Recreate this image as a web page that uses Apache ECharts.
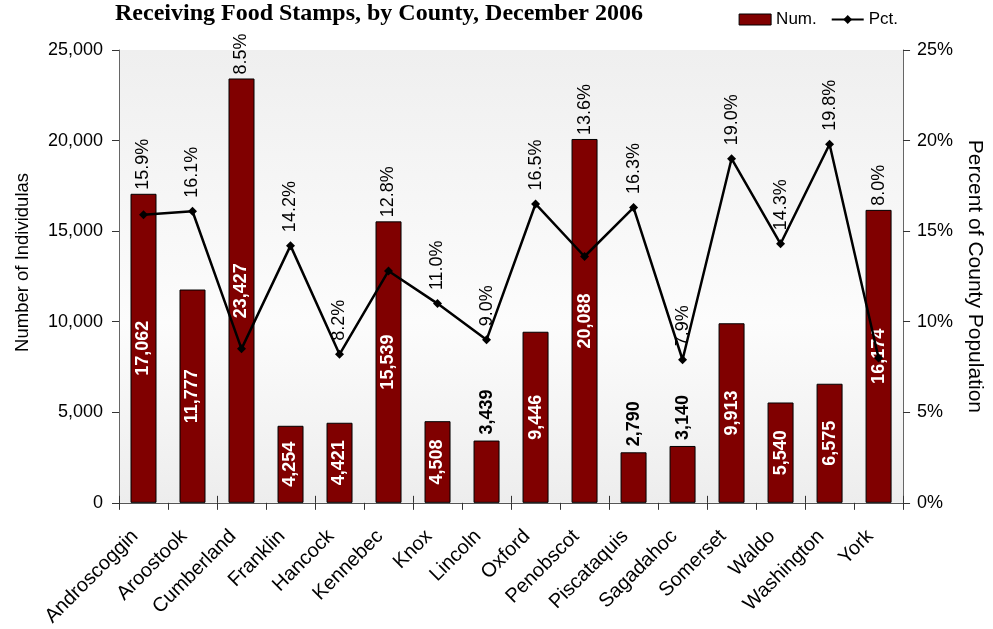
<!DOCTYPE html>
<html lang="en">
<head>
    <meta charset="UTF-8">
    <title>Receiving Food Stamps</title>
    <script src="https://cdn.jsdelivr.net/npm/echarts@6/dist/echarts.min.js"></script>
    <style>
        html, body { margin: 0; padding: 0; background: #fff; }
        #chart { width: 993px; height: 629px; }
    </style>
</head>
<body>
<div id="chart"></div>
<script type="text/javascript">
    const counties = ['Androscoggin', 'Aroostook', 'Cumberland', 'Franklin', 'Hancock', 'Kennebec', 'Knox', 'Lincoln',
        'Oxford', 'Penobscot', 'Piscataquis', 'Sagadahoc', 'Somerset', 'Waldo', 'Washington', 'York'];
    const num = [17062, 11777, 23427, 4254, 4421, 15539, 4508, 3439, 9446, 20088, 2790, 3140, 9913, 5540, 6575, 16174];
    const pct = [15.9, 16.1, 8.5, 14.2, 8.2, 12.8, 11.0, 9.0, 16.5, 13.6, 16.3, 7.9, 19.0, 14.3, 19.8, 8.0];

    const font = 'Arial, "Liberation Sans", sans-serif';
    const chart = echarts.init(document.getElementById('chart'));

    // short bars get their number above the bar, in black
    const barData = num.map(v => v < 4000
        ? {value: v, label: {position: 'top', color: '#000', distance: 6, align: 'left', verticalAlign: 'middle'}}
        : v);
    // pct label sits above whichever is higher: bar top or line point
    const barIsHigher = num.map((v, i) => v / 1000 > pct[i]);

    chart.setOption({
        animation: false,
        title: {
            text: 'Receiving Food Stamps, by County, December 2006',
            left: 110, top: -3,
            textStyle: {fontFamily: '"Liberation Serif", "Times New Roman", serif', fontSize: 24, fontWeight: 'bold', color: '#000'}
        },
        legend: {
            right: 90, top: 6,
            itemGap: 14, itemWidth: 32, itemHeight: 11,
            textStyle: {fontFamily: font, fontSize: 17, color: '#000'},
            data: [
                {name: 'Num.', icon: 'rect', itemStyle: {color: '#800000', borderColor: '#000', borderWidth: 1}},
                {name: 'Pct.'}
            ]
        },
        grid: {
            left: 119, right: 89, top: 50, bottom: 126,
            show: true, borderWidth: 0,
            backgroundColor: {
                type: 'linear', x: 0, y: 0, x2: 0, y2: 1,
                colorStops: [
                    {offset: 0, color: '#efefef'},
                    {offset: 0.6, color: '#fcfcfc'},
                    {offset: 1, color: '#ededed'}
                ]
            }
        },
        xAxis: [
            {
                type: 'category',
                data: counties,
                axisLine: {lineStyle: {color: '#555', width: 1}},
                axisTick: {show: true, length: 7, lineStyle: {color: '#333'}},
                axisLabel: {rotate: 45, fontFamily: font, fontSize: 20, color: '#000', margin: 22, interval: 0,
                    padding: [0, 12, 0, 0]}
            },
            {
                // inner half of the ticks, they cross the axis line
                type: 'category',
                data: counties,
                position: 'bottom',
                axisLine: {show: false},
                axisTick: {show: true, inside: true, length: 7, lineStyle: {color: '#333'}},
                axisLabel: {show: false}
            }
        ],
        yAxis: [
            {
                type: 'value', min: 0, max: 25000, interval: 5000,
                name: 'Number of Individulas', nameLocation: 'middle', nameGap: 87, nameRotate: 90,
                nameTextStyle: {fontFamily: font, fontSize: 18.5, color: '#000', padding: [0, 0, 0, 28]},
                axisLine: {show: true, lineStyle: {color: '#666'}},
                axisTick: {show: true, length: 7, lineStyle: {color: '#333'}},
                splitLine: {show: false},
                axisLabel: {fontFamily: font, fontSize: 18, color: '#000', margin: 16,
                    formatter: v => v.toLocaleString('en-US')}
            },
            {
                type: 'value', min: 0, max: 25, interval: 5,
                name: 'Percent of County Population', nameLocation: 'middle', nameGap: 60, nameRotate: -90,
                nameTextStyle: {fontFamily: font, fontSize: 21, color: '#000'},
                axisLine: {show: true, lineStyle: {color: '#666'}},
                axisTick: {show: true, length: 7, lineStyle: {color: '#333'}},
                splitLine: {show: false},
                axisLabel: {fontFamily: font, fontSize: 18, color: '#000', margin: 14, formatter: '{value}%'}
            }
        ],
        series: [
            {
                name: 'Num.',
                type: 'bar',
                data: barData,
                barWidth: 26,
                itemStyle: {color: '#800000', borderColor: '#000', borderWidth: 1},
                label: {
                    show: true, position: 'inside', rotate: 90,
                    fontFamily: font, fontSize: 18, fontWeight: 'bold', color: '#fff',
                    formatter: p => p.value.toLocaleString('en-US')
                },
                z: 2
            },
            {
                name: 'pctOnBar',
                type: 'bar',
                data: num,
                barWidth: 26,
                barGap: '-100%',
                itemStyle: {color: 'rgba(0,0,0,0)'},
                silent: true,
                label: {
                    show: true, position: 'top', rotate: 90, distance: 4,
                    align: 'left', verticalAlign: 'middle',
                    fontFamily: font, fontSize: 18, color: '#000',
                    formatter: p => barIsHigher[p.dataIndex] ? pct[p.dataIndex].toFixed(1) + '%' : ''
                },
                z: 1
            },
            {
                name: 'Pct.',
                type: 'line',
                yAxisIndex: 1,
                data: pct,
                symbol: 'diamond',
                symbolSize: 9,
                color: '#000',
                lineStyle: {color: '#000', width: 2.5},
                itemStyle: {color: '#000'},
                label: {
                    show: true, position: 'top', rotate: 90, distance: 9,
                    align: 'left', verticalAlign: 'middle',
                    fontFamily: font, fontSize: 18, color: '#000',
                    formatter: p => barIsHigher[p.dataIndex] ? '' : p.value.toFixed(1) + '%'
                },
                z: 3
            }
        ]
    });
</script>
</body>
</html>
